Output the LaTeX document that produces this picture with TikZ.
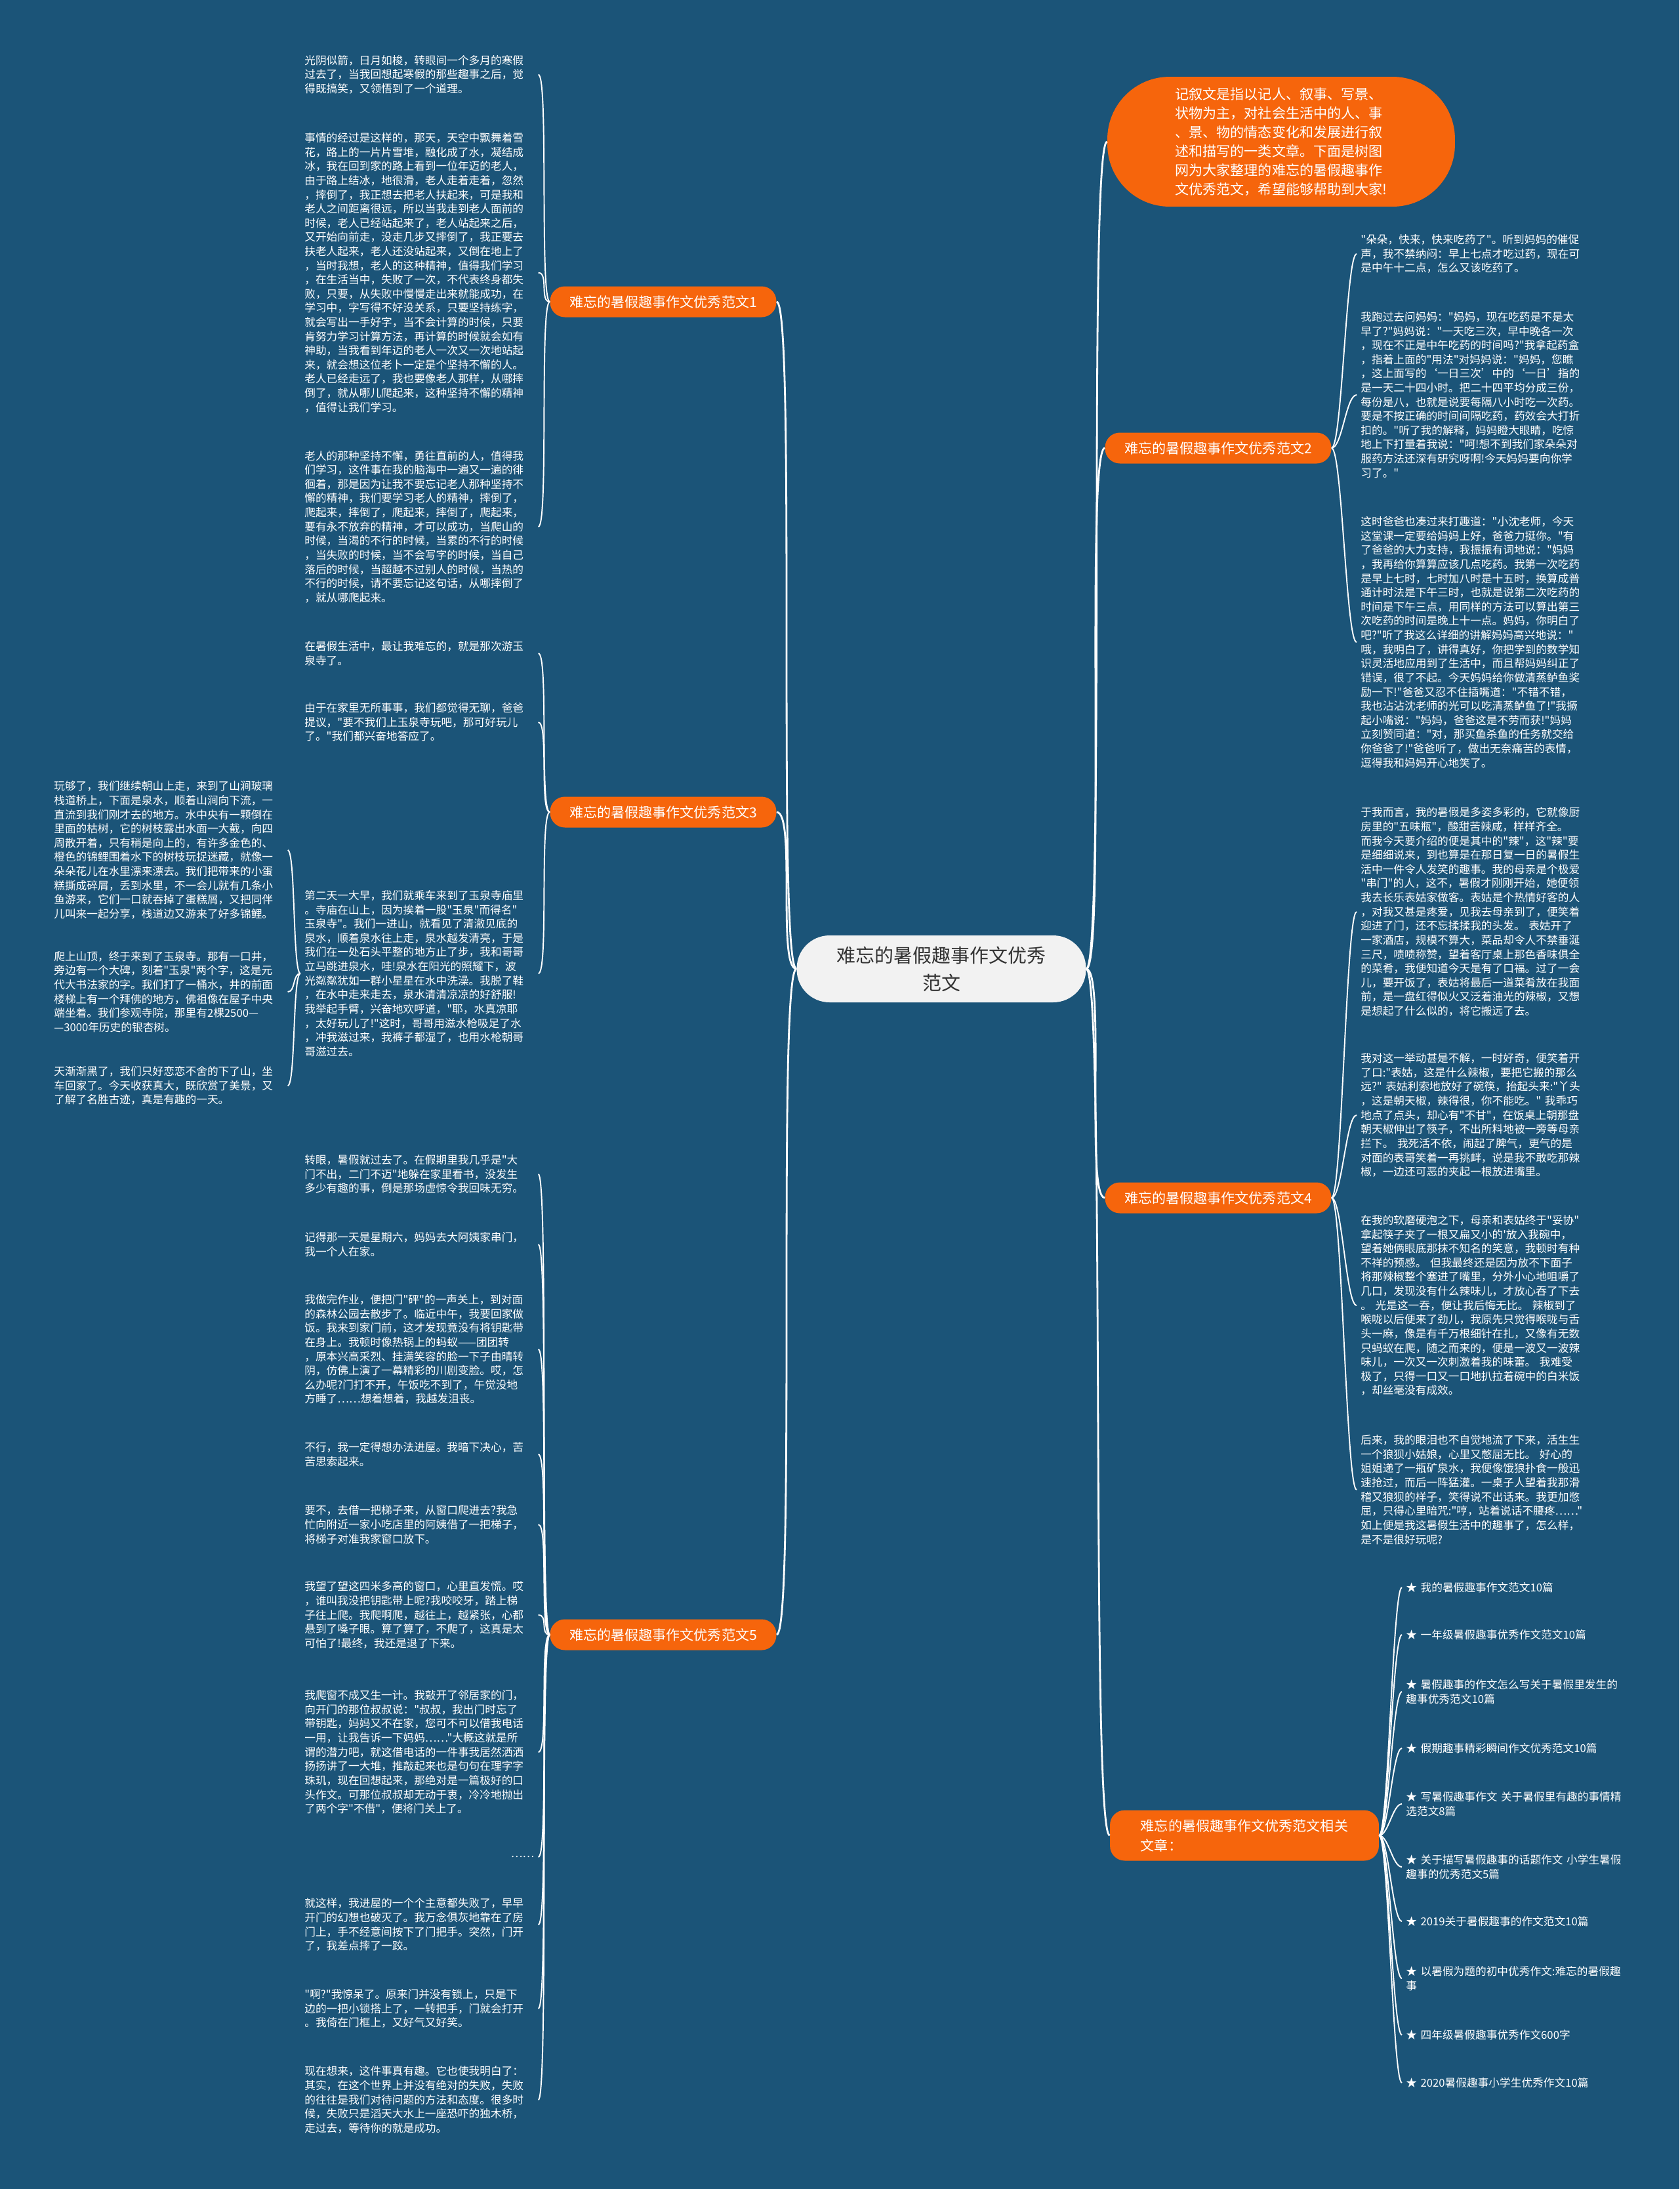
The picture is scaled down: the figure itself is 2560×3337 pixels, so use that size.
\documentclass[tikz,border=0pt]{standalone}
\usepackage{fontspec}
\setmainfont{Noto Sans CJK SC}[Ligatures=TeXOff]
\usetikzlibrary{positioning}
\definecolor{bgblue}{RGB}{27,84,120}
\definecolor{accent}{RGB}{246,101,12}
\definecolor{rootgray}{RGB}{242,242,242}
\definecolor{rootink}{RGB}{51,51,51}
\begin{document}
\begin{tikzpicture}[
    x=0.02cm, y=-0.02cm,
    root/.style={fill=rootgray, text=rootink, rounded corners=1cm, minimum width=8.82cm, minimum height=2.04cm, align=center, font=\fontsize{16.5pt}{24pt}\selectfont},
    intro/.style={fill=accent, text=white, rounded corners=1.9cm, minimum width=10.6cm, minimum height=3.96cm, align=left, font=\fontsize{12pt}{16.5pt}\selectfont},
    topic/.style={fill=accent, text=white, rounded corners=0.45cm, minimum width=6.9cm, minimum height=0.94cm, align=left, font=\fontsize{12pt}{17pt}\selectfont},
    para/.style={text=white, text width=7cm, inner xsep=0.12cm, inner ysep=0pt, align=left, font=\fontsize{9.5pt}{12.3pt}\selectfont},
    listitem/.style={para, text width=8cm},
    trunk/.style={draw=white, line width=1.6pt},
    twig/.style={draw=white, line width=1.1pt}
  ]
    \fill[bgblue] (0,0) rectangle (2560,3337);

    % centre and first level
    \node[root] (root) at (1435,1477) {难忘的暑假趣事作文优秀\\范文};
    \node[intro] (intro) at (1953,216) {记叙文是指以记人、叙事、写景、\\状物为主，对社会生活中的人、事\\、景、物的情态变化和发展进行叙\\述和描写的一类文章。下面是树图\\网为大家整理的难忘的暑假趣事作\\文优秀范文，希望能够帮助到大家!};
    \node[topic] (t1) at (1011,460) {难忘的暑假趣事作文优秀范文1};
    \node[topic] (t2) at (1857,683) {难忘的暑假趣事作文优秀范文2};
    \node[topic] (t3) at (1011,1238) {难忘的暑假趣事作文优秀范文3};
    \node[topic] (t4) at (1857,1826) {难忘的暑假趣事作文优秀范文4};
    \node[topic] (t5) at (1011,2492) {难忘的暑假趣事作文优秀范文5};
    \node[topic, minimum width=8.2cm, minimum height=1.54cm] (t6) at (1897,2798) {难忘的暑假趣事作文优秀范文相关\\文章：};

    \draw[trunk] (root.east) .. controls +(30,0) and +(-30,0) .. (intro.west);
    \draw[trunk] (root.east) .. controls +(30,0) and +(-30,0) .. (t2.west);
    \draw[trunk] (root.east) .. controls +(30,0) and +(-30,0) .. (t4.west);
    \draw[trunk] (root.east) .. controls +(30,0) and +(-30,0) .. (t6.west);
    \draw[trunk] (root.west) .. controls +(-30,0) and +(30,0) .. (t1.east);
    \draw[trunk] (root.west) .. controls +(-30,0) and +(30,0) .. (t3.east);
    \draw[trunk] (root.west) .. controls +(-30,0) and +(30,0) .. (t5.east);

    % essay 1
    \node[para, anchor=west] (a1) at (458,113.6) {光阴似箭，日月如梭，转眼间一个多月的寒假\\过去了，当我回想起寒假的那些趣事之后，觉\\得既搞笑，又领悟到了一个道理。};
    \node[para, anchor=west] (a2) at (458,415.7) {事情的经过是这样的，那天，天空中飘舞着雪\\花，路上的一片片雪堆，融化成了水，凝结成\\冰，我在回到家的路上看到一位年迈的老人，\\由于路上结冰，地很滑，老人走着走着，忽然\\，摔倒了，我正想去把老人扶起来，可是我和\\老人之间距离很远，所以当我走到老人面前的\\时候，老人已经站起来了，老人站起来之后，\\又开始向前走，没走几步又摔倒了，我正要去\\扶老人起来，老人还没站起来，又倒在地上了\\，当时我想，老人的这种精神，值得我们学习\\，在生活当中，失败了一次，不代表终身都失\\败，只要，从失败中慢慢走出来就能成功，在\\学习中，字写得不好没关系，只要坚持练字，\\就会写出一手好字，当不会计算的时候，只要\\肯努力学习计算方法，再计算的时候就会如有\\神助，当我看到年迈的老人一次又一次地站起\\来，就会想这位老卜一定是个坚持不懈的人。\\老人已经走远了，我也要像老人那样，从哪摔\\倒了，就从哪儿爬起来，这种坚持不懈的精神\\，值得让我们学习。};
    \node[para, anchor=west] (a3) at (458,803) {老人的那种坚持不懈，勇往直前的人，值得我\\们学习，这件事在我的脑海中一遍又一遍的徘\\徊着，那是因为让我不要忘记老人那种坚持不\\懈的精神，我们要学习老人的精神，摔倒了，\\爬起来，摔倒了，爬起来，摔倒了，爬起来，\\要有永不放弃的精神，才可以成功，当爬山的\\时候，当渴的不行的时候，当累的不行的时候\\，当失败的时候，当不会写字的时候，当自己\\落后的时候，当超越不过别人的时候，当热的\\不行的时候，请不要忘记这句话，从哪摔倒了\\，就从哪爬起来。};
    \draw[twig] (t1.west) .. controls +(-16,0) and +(16,0) .. (a1.east);
    \draw[twig] (t1.west) .. controls +(-16,0) and +(16,0) .. (a2.east);
    \draw[twig] (t1.west) .. controls +(-16,0) and +(16,0) .. (a3.east);

    % essay 2
    \node[para, anchor=west] (b1) at (2068,387) {"朵朵，快来，快来吃药了"。听到妈妈的催促\\声，我不禁纳闷：早上七点才吃过药，现在可\\是中午十二点，怎么又该吃药了。};
    \node[para, anchor=west] (b2) at (2068,602) {我跑过去问妈妈："妈妈，现在吃药是不是太\\早了?"妈妈说："一天吃三次，早中晚各一次\\，现在不正是中午吃药的时间吗?"我拿起药盒\\，指着上面的"用法"对妈妈说："妈妈，您瞧\\，这上面写的‘一日三次’中的‘一日’指的\\是一天二十四小时。把二十四平均分成三份，\\每份是八，也就是说要每隔八小时吃一次药。\\要是不按正确的时间间隔吃药，药效会大打折\\扣的。"听了我的解释，妈妈瞪大眼睛，吃惊\\地上下打量着我说："呵!想不到我们家朵朵对\\服药方法还深有研究呀啊!今天妈妈要向你学\\习了。"};
    \node[para, anchor=west] (b3) at (2068,979) {这时爸爸也凑过来打趣道："小沈老师，今天\\这堂课一定要给妈妈上好，爸爸力挺你。"有\\了爸爸的大力支持，我振振有词地说："妈妈\\，我再给你算算应该几点吃药。我第一次吃药\\是早上七时，七时加八时是十五时，换算成普\\通计时法是下午三时，也就是说第二次吃药的\\时间是下午三点，用同样的方法可以算出第三\\次吃药的时间是晚上十一点。妈妈，你明白了\\吧?"听了我这么详细的讲解妈妈高兴地说："\\哦，我明白了，讲得真好，你把学到的数学知\\识灵活地应用到了生活中，而且帮妈妈纠正了\\错误，很了不起。今天妈妈给你做清蒸鲈鱼奖\\励一下!"爸爸又忍不住插嘴道："不错不错，\\我也沾沾沈老师的光可以吃清蒸鲈鱼了!"我撅\\起小嘴说："妈妈，爸爸这是不劳而获!"妈妈\\立刻赞同道："对，那买鱼杀鱼的任务就交给\\你爸爸了!"爸爸听了，做出无奈痛苦的表情，\\逗得我和妈妈开心地笑了。};
    \draw[twig] (t2.east) .. controls +(16,0) and +(-16,0) .. (b1.west);
    \draw[twig] (t2.east) .. controls +(16,0) and +(-16,0) .. (b2.west);
    \draw[twig] (t2.east) .. controls +(16,0) and +(-16,0) .. (b3.west);

    % essay 3
    \node[para, anchor=west] (c1) at (458,996) {在暑假生活中，最让我难忘的，就是那次游玉\\泉寺了。};
    \node[para, anchor=west] (c2) at (458,1101) {由于在家里无所事事，我们都觉得无聊，爸爸\\提议，"要不我们上玉泉寺玩吧，那可好玩儿\\了。"我们都兴奋地答应了。};
    \node[para, anchor=west] (c3) at (458,1484) {第二天一大早，我们就乘车来到了玉泉寺庙里\\。寺庙在山上，因为挨着一股"玉泉"而得名"\\玉泉寺"。我们一进山，就看见了清澈见底的\\泉水，顺着泉水往上走，泉水越发清亮，于是\\我们在一处石头平整的地方止了步，我和哥哥\\立马跳进泉水，哇!泉水在阳光的照耀下，波\\光粼粼犹如一群小星星在水中洗澡。我脱了鞋\\，在水中走来走去，泉水清清凉凉的好舒服!\\我举起手臂，兴奋地欢呼道，"耶，水真凉耶\\，太好玩儿了!"这时，哥哥用滋水枪吸足了水\\，冲我滋过来，我裤子都湿了，也用水枪朝哥\\哥滋过去。};
    \node[para, anchor=west] (c31) at (76,1296) {玩够了，我们继续朝山上走，来到了山涧玻璃\\栈道桥上，下面是泉水，顺着山涧向下流，一\\直流到我们刚才去的地方。水中央有一颗倒在\\里面的枯树，它的树枝露出水面一大截，向四\\周散开着，只有稍是向上的，有许多金色的、\\橙色的锦鲤围着水下的树枝玩捉迷藏，就像一\\朵朵花儿在水里漂来漂去。我们把带来的小蛋\\糕撕成碎屑，丢到水里，不一会儿就有几条小\\鱼游来，它们一口就吞掉了蛋糕屑，又把同伴\\儿叫来一起分享，栈道边又游来了好多锦鲤。};
    \node[para, anchor=west] (c32) at (76,1512) {爬上山顶，终于来到了玉泉寺。那有一口井，\\旁边有一个大碑，刻着"玉泉"两个字，这是元\\代大书法家的字。我们打了一桶水，井的前面\\楼梯上有一个拜佛的地方，佛祖像在屋子中央\\端坐着。我们参观寺院，那里有2棵2500—\\—3000年历史的银杏树。};
    \node[para, anchor=west] (c33) at (76,1655) {天渐渐黑了，我们只好恋恋不舍的下了山，坐\\车回家了。今天收获真大，既欣赏了美景，又\\了解了名胜古迹，真是有趣的一天。};
    \draw[twig] (t3.west) .. controls +(-16,0) and +(16,0) .. (c1.east);
    \draw[twig] (t3.west) .. controls +(-16,0) and +(16,0) .. (c2.east);
    \draw[twig] (t3.west) .. controls +(-16,0) and +(16,0) .. (c3.east);
    \draw[twig] (c3.west) .. controls +(-12,0) and +(12,0) .. (c31.east);
    \draw[twig] (c3.west) .. controls +(-12,0) and +(12,0) .. (c32.east);
    \draw[twig] (c3.west) .. controls +(-12,0) and +(12,0) .. (c33.east);

    % essay 4
    \node[para, anchor=west] (d1) at (2068,1390) {于我而言，我的暑假是多姿多彩的，它就像厨\\房里的"五味瓶"，酸甜苦辣咸，样样齐全。\\而我今天要介绍的便是其中的"辣"，这"辣"要\\是细细说来，到也算是在那日复一日的暑假生\\活中一件令人发笑的趣事。我的母亲是个极爱\\"串门"的人，这不，暑假才刚刚开始，她便领\\我去长乐表姑家做客。表姑是个热情好客的人\\，对我又甚是疼爱，见我去母亲到了，便笑着\\迎进了门，还不忘揉揉我的头发。~表姑开了\\一家酒店，规模不算大，菜品却令人不禁垂涎\\三尺，啧啧称赞，望着客厅桌上那色香味俱全\\的菜肴，我便知道今天是有了口福。过了一会\\儿，要开饭了，表姑将最后一道菜肴放在我面\\前，是一盘红得似火又泛着油光的辣椒，又想\\是想起了什么似的，将它搬远了去。};
    \node[para, anchor=west] (d2) at (2068,1700) {我对这一举动甚是不解，一时好奇，便笑着开\\了口:"表姑，这是什么辣椒，要把它搬的那么\\远?"~表姑利索地放好了碗筷，抬起头来:"丫头\\，这是朝天椒，辣得很，你不能吃。"~我乖巧\\地点了点头，却心有"不甘"，在饭桌上朝那盘\\朝天椒伸出了筷子，不出所料地被一旁等母亲\\拦下。~我死活不依，闹起了脾气，更气的是\\对面的表哥笑着一再挑衅，说是我不敢吃那辣\\椒，一边还可恶的夹起一根放进嘴里。};
    \node[para, anchor=west] (d3) at (2068,1990) {在我的软磨硬泡之下，母亲和表姑终于"妥协"\\拿起筷子夹了一根又扁又小的'放入我碗中，\\望着她俩眼底那抹不知名的笑意，我顿时有种\\不祥的预感。~但我最终还是因为放不下面子\\将那辣椒整个塞进了嘴里，分外小心地咀嚼了\\几口，发现没有什么辣味儿，才放心吞了下去\\。~光是这一吞，便让我后悔无比。~辣椒到了\\喉咙以后便来了劲儿，我原先只觉得喉咙与舌\\头一麻，像是有千万根细针在扎，又像有无数\\只蚂蚁在爬，随之而来的，便是一波又一波辣\\味儿，一次又一次刺激着我的味蕾。~我难受\\极了，只得一口又一口地扒拉着碗中的白米饭\\，却丝毫没有成效。};
    \node[para, anchor=west] (d4) at (2068,2271) {后来，我的眼泪也不自觉地流了下来，活生生\\一个狼狈小姑娘，心里又憋屈无比。~好心的\\姐姐递了一瓶矿泉水，我便像饿狼扑食一般迅\\速抢过，而后一阵猛灌。一桌子人望着我那滑\\稽又狼狈的样子，笑得说不出话来。我更加憋\\屈，只得心里暗咒:"哼，站着说话不腰疼……"\\如上便是我这暑假生活中的趣事了，怎么样，\\是不是很好玩呢?};
    \draw[twig] (t4.east) .. controls +(16,0) and +(-16,0) .. (d1.west);
    \draw[twig] (t4.east) .. controls +(16,0) and +(-16,0) .. (d2.west);
    \draw[twig] (t4.east) .. controls +(16,0) and +(-16,0) .. (d3.west);
    \draw[twig] (t4.east) .. controls +(16,0) and +(-16,0) .. (d4.west);

    % essay 5
    \node[para, anchor=west] (e1) at (458,1790) {转眼，暑假就过去了。在假期里我几乎是"大\\门不出，二门不迈"地躲在家里看书，没发生\\多少有趣的事，倒是那场虚惊令我回味无穷。};
    \node[para, anchor=west] (e2) at (458,1897) {记得那一天是星期六，妈妈去大阿姨家串门，\\我一个人在家。};
    \node[para, anchor=west] (e3) at (458,2057) {我做完作业，便把门"砰"的一声关上，到对面\\的森林公园去散步了。临近中午，我要回家做\\饭。我来到家门前，这才发现竟没有将钥匙带\\在身上。我顿时像热锅上的蚂蚁——团团转\\，原本兴高采烈、挂满笑容的脸一下子由晴转\\阴，仿佛上演了一幕精彩的川剧变脸。哎，怎\\么办呢?门打不开，午饭吃不到了，午觉没地\\方睡了……想着想着，我越发沮丧。};
    \node[para, anchor=west] (e4) at (458,2217) {不行，我一定得想办法进屋。我暗下决心，苦\\苦思索起来。};
    \node[para, anchor=west] (e5) at (458,2324) {要不，去借一把梯子来，从窗口爬进去?我急\\忙向附近一家小吃店里的阿姨借了一把梯子，\\将梯子对准我家窗口放下。};
    \node[para, anchor=west] (e6) at (458,2462) {我望了望这四米多高的窗口，心里直发慌。哎\\，谁叫我没把钥匙带上呢?我咬咬牙，踏上梯\\子往上爬。我爬啊爬，越往上，越紧张，心都\\悬到了嗓子眼。算了算了，不爬了，这真是太\\可怕了!最终，我还是退了下来。};
    \node[para, anchor=west] (e7) at (458,2671) {我爬窗不成又生一计。我敲开了邻居家的门，\\向开门的那位叔叔说："叔叔，我出门时忘了\\带钥匙，妈妈又不在家，您可不可以借我电话\\一用，让我告诉一下妈妈……"大概这就是所\\谓的潜力吧，就这借电话的一件事我居然洒洒\\扬扬讲了一大堆，推敲起来也是句句在理字字\\珠玑，现在回想起来，那绝对是一篇极好的口\\头作文。可那位叔叔却无动于衷，冷冷地抛出\\了两个字"不借"，便将门关上了。};
    \node[para, anchor=west, align=right] (e8) at (458,2831) {……};
    \node[para, anchor=west] (e9) at (458,2934) {就这样，我进屋的一个个主意都失败了，早早\\开门的幻想也破灭了。我万念俱灰地靠在了房\\门上，手不经意间按下了门把手。突然，门开\\了，我差点摔了一跤。};
    \node[para, anchor=west] (e10) at (458,3062) {"啊?"我惊呆了。原来门并没有锁上，只是下\\边的一把小锁搭上了，一转把手，门就会打开\\。我倚在门框上，又好气又好笑。};
    \node[para, anchor=west] (e11) at (458,3201) {现在想来，这件事真有趣。它也使我明白了：\\其实，在这个世界上并没有绝对的失败，失败\\的往往是我们对待问题的方法和态度。很多时\\候，失败只是滔天大水上一座恐吓的独木桥，\\走过去，等待你的就是成功。};
    \draw[twig] (t5.west) .. controls +(-16,0) and +(16,0) .. (e1.east);
    \draw[twig] (t5.west) .. controls +(-16,0) and +(16,0) .. (e2.east);
    \draw[twig] (t5.west) .. controls +(-16,0) and +(16,0) .. (e3.east);
    \draw[twig] (t5.west) .. controls +(-16,0) and +(16,0) .. (e4.east);
    \draw[twig] (t5.west) .. controls +(-16,0) and +(16,0) .. (e5.east);
    \draw[twig] (t5.west) .. controls +(-16,0) and +(16,0) .. (e6.east);
    \draw[twig] (t5.west) .. controls +(-16,0) and +(16,0) .. (e7.east);
    \draw[twig] (t5.west) .. controls +(-16,0) and +(16,0) .. (e8.east);
    \draw[twig] (t5.west) .. controls +(-16,0) and +(16,0) .. (e9.east);
    \draw[twig] (t5.west) .. controls +(-16,0) and +(16,0) .. (e10.east);
    \draw[twig] (t5.west) .. controls +(-16,0) and +(16,0) .. (e11.east);

    % related list
    \node[listitem, anchor=west] (f1) at (2137,2420) {★ 我的暑假趣事作文范文10篇};
    \node[listitem, anchor=west] (f2) at (2137,2492) {★ 一年级暑假趣事优秀作文范文10篇};
    \node[listitem, anchor=west] (f3) at (2137,2579) {★ 暑假趣事的作文怎么写关于暑假里发生的\\趣事优秀范文10篇};
    \node[listitem, anchor=west] (f4) at (2137,2665) {★ 假期趣事精彩瞬间作文优秀范文10篇};
    \node[listitem, anchor=west] (f5) at (2137,2750) {★ 写暑假趣事作文~关于暑假里有趣的事情精\\选范文8篇};
    \node[listitem, anchor=west] (f6) at (2137,2846) {★ 关于描写暑假趣事的话题作文~小学生暑假\\趣事的优秀范文5篇};
    \node[listitem, anchor=west] (f7) at (2137,2929) {★ 2019关于暑假趣事的作文范文10篇};
    \node[listitem, anchor=west] (f8) at (2137,3016) {★ 以暑假为题的初中优秀作文:难忘的暑假趣\\事};
    \node[listitem, anchor=west] (f9) at (2137,3102) {★ 四年级暑假趣事优秀作文600字};
    \node[listitem, anchor=west] (f10) at (2137,3175) {★ 2020暑假趣事小学生优秀作文10篇};
    \draw[twig] (t6.east) .. controls +(14,0) and +(-14,0) .. (f1.west);
    \draw[twig] (t6.east) .. controls +(14,0) and +(-14,0) .. (f2.west);
    \draw[twig] (t6.east) .. controls +(14,0) and +(-14,0) .. (f3.west);
    \draw[twig] (t6.east) .. controls +(14,0) and +(-14,0) .. (f4.west);
    \draw[twig] (t6.east) .. controls +(14,0) and +(-14,0) .. (f5.west);
    \draw[twig] (t6.east) .. controls +(14,0) and +(-14,0) .. (f6.west);
    \draw[twig] (t6.east) .. controls +(14,0) and +(-14,0) .. (f7.west);
    \draw[twig] (t6.east) .. controls +(14,0) and +(-14,0) .. (f8.west);
    \draw[twig] (t6.east) .. controls +(14,0) and +(-14,0) .. (f9.west);
    \draw[twig] (t6.east) .. controls +(14,0) and +(-14,0) .. (f10.west);
  \end{tikzpicture}
\end{document}
